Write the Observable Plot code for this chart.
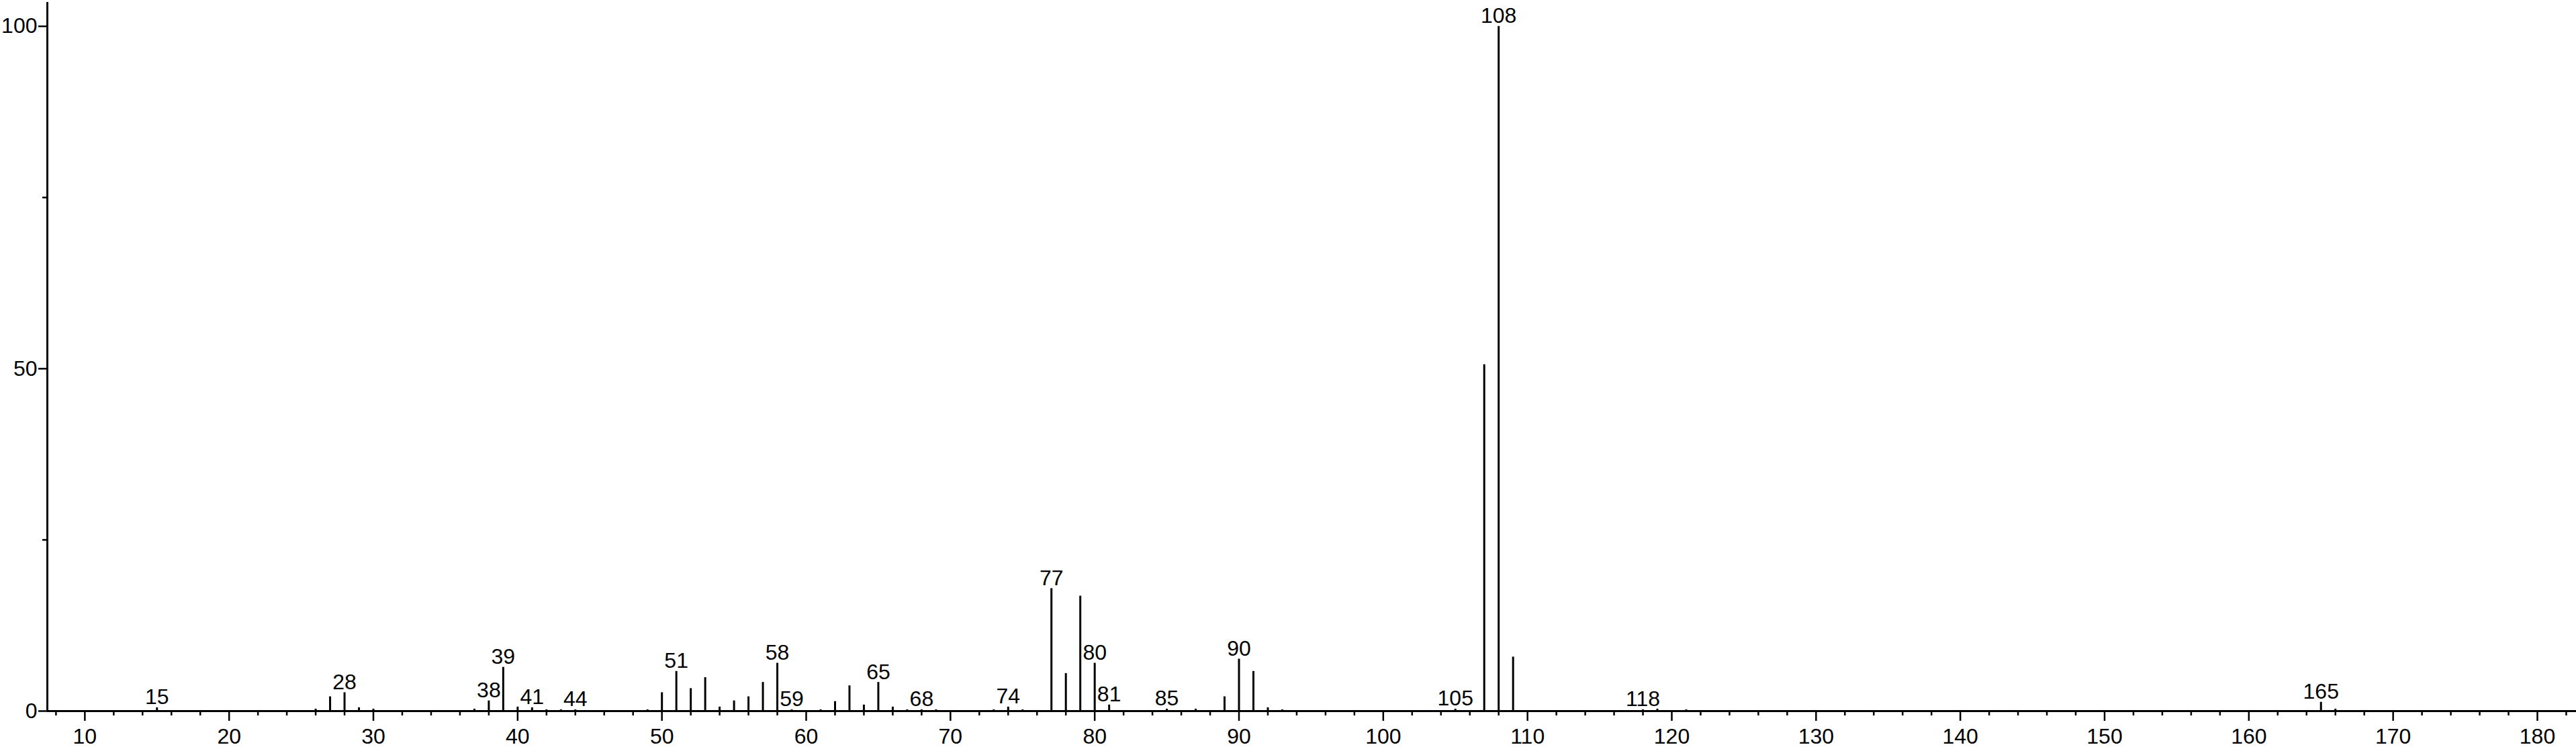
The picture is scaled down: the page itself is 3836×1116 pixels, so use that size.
<!DOCTYPE html>
<html>
<head>
<meta charset="utf-8">
<script src="https://cdn.jsdelivr.net/npm/d3@7"></script>
<script src="https://cdn.jsdelivr.net/npm/@observablehq/plot@0.6"></script>
<style>
  html, body { margin: 0; padding: 0; background: #fff; }
</style>
</head>
<body>
<div id="chart"></div>
<script>
// m/z values and relative intensities
const mzValues = [15, 26, 27, 28, 29, 30, 37, 38, 39, 40, 41, 42, 43, 44, 49,
  50, 51, 52, 53, 54, 55, 56, 57, 58, 59, 61, 62, 63, 64, 65, 66, 67, 68, 69,
  73, 74, 75, 77, 78, 79, 80, 81, 85, 87, 89, 90, 91, 92, 93,
  105, 107, 108, 109, 118, 119, 121, 165, 166];
const intensities = [0.5, 0.3, 2.1, 2.7, 0.5, 0.3, 0.3, 1.5, 6.4, 0.6, 0.5, 0.2, 0.2, 0.2, 0.2,
  2.7, 5.8, 3.3, 4.9, 0.6, 1.5, 2.1, 4.2, 7.0, 0.2, 0.2, 1.4, 3.7, 0.9, 4.2, 0.6, 0.2, 0.2, 0.2,
  0.2, 0.6, 0.2, 17.9, 5.5, 16.8, 7.0, 0.9, 0.3, 0.3, 2.1, 7.6, 5.8, 0.5, 0.2,
  0.3, 50.6, 100, 7.9, 0.2, 0.3, 0.2, 1.3, 0.3];
const labeledPeaks = [15, 28, 38, 39, 41, 44, 51, 58, 59, 65, 68, 74, 77, 80, 81, 85, 90, 105, 108, 118, 165];
const xMajorTicks = [10, 20, 30, 40, 50, 60, 70, 80, 90, 100, 110, 120, 130, 140, 150, 160, 170, 180];
const xMinorTicks = d3.range(8, 183, 2).filter(v => v % 10 !== 0);
const yMajorTicks = [0, 50, 100];
const yMinorTicks = [25, 75];

const peaks = mzValues.map((mz, i) => ({mz, intensity: intensities[i]}));
const labeled = peaks.filter(d => labeledPeaks.includes(d.mz));

const xDomain = [7.4, 182.7];
const yDomain = [0, 103.5];

const chart = Plot.plot({
  width: 3836,
  height: 1116,
  marginLeft: 70,
  marginRight: 0,
  marginTop: 3,
  marginBottom: 57,
  style: {fontFamily: "'Liberation Sans', Arial, Helvetica, sans-serif", fontSize: "32px", background: "#fff", color: "#000"},
  x: {domain: xDomain, type: "linear"},
  y: {domain: yDomain, type: "linear"},
  marks: [
    Plot.axisX(xMajorTicks, {anchor: "bottom", tickSize: 15, tickPadding: 11, fontSize: 32, strokeWidth: 2.5, label: null, tickFormat: d => String(d)}),
    Plot.axisX(xMinorTicks, {anchor: "bottom", tickSize: 7, strokeWidth: 2.5, label: null, tickFormat: () => ""}),
    Plot.axisY(yMajorTicks, {anchor: "left", tickSize: 13, tickPadding: 2, fontSize: 32, strokeWidth: 2.5, label: null, tickFormat: d => String(d)}),
    Plot.axisY(yMinorTicks, {anchor: "left", tickSize: 7, strokeWidth: 2.5, label: null, tickFormat: () => ""}),
    Plot.ruleX(peaks, {x: "mz", y1: 0, y2: "intensity", stroke: "#000", strokeWidth: 3}),
    Plot.ruleY([0], {stroke: "#000", strokeWidth: 3}),
    Plot.ruleX([xDomain[0]], {y1: yDomain[0], y2: yDomain[1], stroke: "#000", strokeWidth: 3}),
    Plot.text(labeled, {x: "mz", y: "intensity", text: d => String(d.mz), lineAnchor: "bottom", dy: -5, fontSize: 32, fill: "#000"})
  ]
});
document.getElementById("chart").appendChild(chart);
</script>
</body>
</html>
